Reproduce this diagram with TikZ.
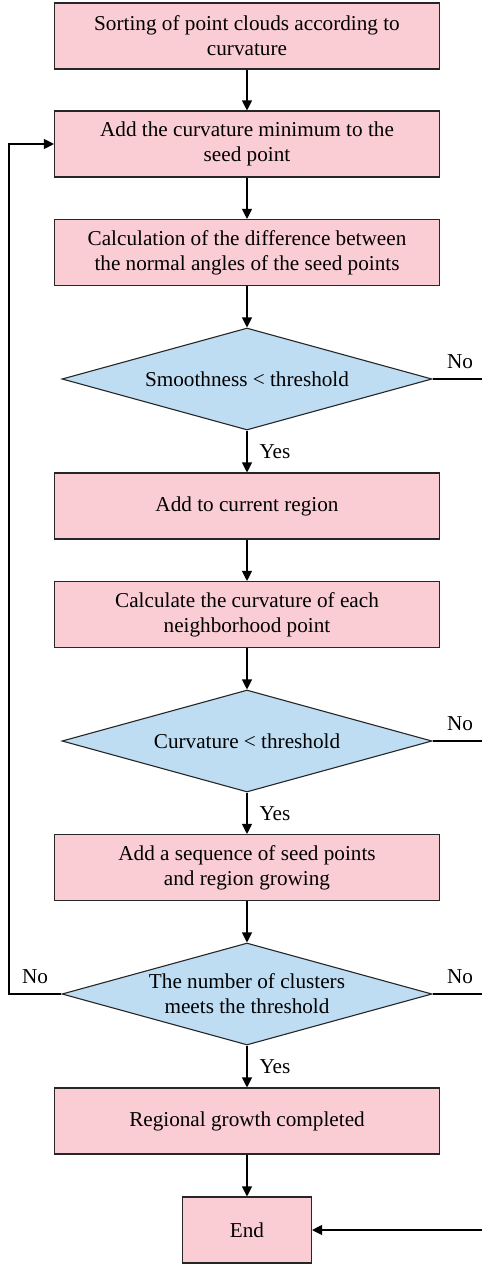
\documentclass[tikz,border=0pt]{standalone}
\usepackage{fontspec}
\setmainfont{Liberation Serif}
\usetikzlibrary{shapes.geometric,arrows.meta}
\definecolor{boxpink}{RGB}{250,204,212}
\definecolor{decblue}{RGB}{190,221,243}
\tikzset{
  procbox/.style={draw=black!85, fill=boxpink, line width=1.1pt, minimum width=385pt, minimum height=66pt, align=center, inner sep=2pt},
  decision/.style={diamond, draw=black!85, fill=decblue, line width=1.1pt, minimum width=370pt, minimum height=102pt, aspect=3.63, inner sep=0pt, align=center},
  flow/.style={line width=1.1pt, -{Triangle[width=10pt,length=10pt]}},
  plain/.style={line width=1.1pt},
  lbl/.style={inner sep=0pt}
}
\begin{document}
\begin{tikzpicture}[x=1pt,y=-1pt, font=\fontsize{21.2}{25}\selectfont]
\useasboundingbox (0,0) rectangle (482,1267);
\pgfmathsetmacro\cx{247}
\node[procbox] (sort) at (\cx,36) {Sorting of point clouds according to\\curvature};
\node[procbox] (seed) at (\cx,144) {Add the curvature minimum to the\\seed point};
\node[procbox] (angle) at (\cx,252.5) {Calculation of the difference between\\the normal angles of the seed points};
\node[decision] (smooth) at (\cx,379) {Smoothness < threshold};
\node[procbox] (region) at (\cx,506) {Add to current region};
\node[procbox] (neigh) at (\cx,614.5) {Calculate the curvature of each\\neighborhood point};
\node[decision] (curv) at (\cx,741) {Curvature < threshold};
\node[procbox] (grow) at (\cx,867.5) {Add a sequence of seed points\\and region growing};
\node[decision] (clust) at (\cx,994) {The number of clusters\\meets the threshold};
\node[procbox] (done) at (\cx,1121) {Regional growth completed};
\node[procbox, minimum width=129pt] (finish) at (\cx,1230) {End};
\coordinate (loopbot) at (9,994);
\coordinate (looptop) at (9,144);
\coordinate (edge1) at (482,379);
\coordinate (edge2) at (482,741);
\coordinate (edge3) at (482,994);
\coordinate (edge4) at (482,1230);
\draw[flow] (sort) -- (seed);
\draw[flow] (seed) -- (angle);
\draw[flow] (angle) -- (smooth);
\draw[flow] (smooth) -- (region) node[lbl, pos=0.5, right=12pt] {Yes};
\draw[flow] (region) -- (neigh);
\draw[flow] (neigh) -- (curv);
\draw[flow] (curv) -- (grow) node[lbl, pos=0.5, right=12pt] {Yes};
\draw[flow] (grow) -- (clust);
\draw[flow] (clust) -- (done) node[lbl, pos=0.5, right=12pt] {Yes};
\draw[flow] (done) -- (finish);
\draw[flow] (clust.west) -- (loopbot) -- (looptop) -- (seed.west);
\draw[plain] (smooth.east) -- (edge1);
\draw[plain] (curv.east) -- (edge2);
\draw[plain] (clust.east) -- (edge3);
\draw[flow] (edge4) -- (finish.east);
\node[lbl] (no1) at (460,362) {No};
\node[lbl] (no2) at (460,724) {No};
\node[lbl] (no3) at (460,977) {No};
\node[lbl] (no4) at (35,977) {No};
\end{tikzpicture}
\end{document}
